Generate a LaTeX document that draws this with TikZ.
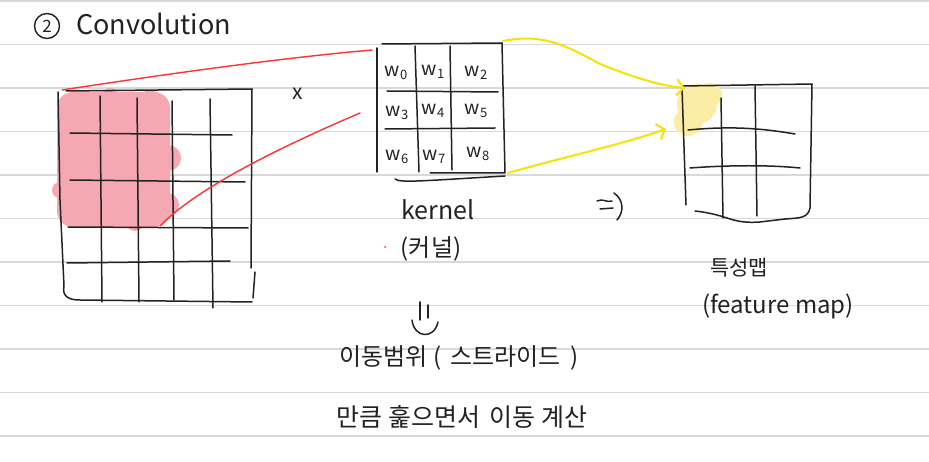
\documentclass[tikz,border=0pt]{standalone}
\usepackage{fontspec}
\setmainfont{Noto Sans CJK KR}
\usetikzlibrary{arrows.meta}
\definecolor{ruled}{HTML}{D9D9D9}
\definecolor{ink}{HTML}{222222}
\definecolor{pinkfill}{HTML}{F5A8B2}
\definecolor{redline}{HTML}{FF3333}
\definecolor{yelline}{HTML}{F5E400}
\definecolor{yelfill}{HTML}{FBEDA6}
\tikzset{
  ink/.style={draw=ink, line width=1.5pt, line cap=round, line join=round},
  redstroke/.style={draw=redline, line width=1.4pt, line cap=round},
  yelstroke/.style={draw=yelline, line width=2pt, line cap=round, -{Straight Barb[length=7pt,width=16pt,line width=2pt]}},
  hand/.style={inner sep=0pt, text=ink, anchor=center},
  wlab/.style={hand, font=\fontsize{19}{19}\selectfont},
}
\newcommand{\wsub}[1]{w\raisebox{-0.35ex}{\fontsize{13}{13}\selectfont #1}}
\begin{document}
\begin{tikzpicture}[x=1pt,y=-1pt]
\useasboundingbox (0,0) rectangle (929,462);
\fill[white] (0,0) rectangle (929,462);
% ruled lines
\foreach \yy in {1,44.5,88,131.5,175,218.5,262,305.5,349,392.5,436}
  \draw[ruled, line width=1.5pt] (0,\yy) -- (929,\yy);

% title
\node[draw=ink, line width=1.4pt, circle, minimum size=25pt, inner sep=0pt, font=\fontsize{17}{17}\selectfont, text=ink] (num) at (47,26) {2};
\node[hand, anchor=west, font=\fontsize{27}{27}\selectfont] (title) at (76,24) {Convolution};

% ---------- input grid ----------
\fill[pinkfill, rounded corners=16] (57,92) rectangle (170,227);
\fill[pinkfill] (168,158) circle (13) (167,205) circle (12) (150,100) circle (10) (110,96) circle (8)
  (135,222) circle (9) (60,190) circle (8);
\coordinate (inTL) at (62,90);
\coordinate (inHit) at (160,226);
\draw[ink] (58,92) -- (60,200) -- (64,286) .. controls (62,296) and (68,300) .. (80,300) -- (252,302);
\draw[ink] (66,91) -- (252,89) -- (251,268);
\draw[ink] (255,272) -- (253,298);
\draw[ink] (100,96) -- (102,302);
\draw[ink] (137,98) -- (139,302);
\draw[ink] (172,101) -- (174,300);
\draw[ink] (210,99) -- (213,308);
\draw[ink] (70,133) -- (232,135);
\draw[ink] (70,180) -- (245,182);
\draw[ink] (68,227) -- (248,228);
\draw[ink] (67,263) -- (230,261);

\node[hand, font=\fontsize{21}{21}\selectfont] (times) at (298,94) {x};

% ---------- kernel ----------
\coordinate (kTL) at (372,50);
\coordinate (kML) at (360,113);
\coordinate (kTR) at (503,41);
\coordinate (kBR) at (508,173);
\draw[ink] (377,48) -- (377,172);
\draw[ink] (382,44) -- (502,43) -- (505,173) -- (430,173);
\draw[ink] (395,179) .. controls (400,183) and (420,181) .. (505,176);
\draw[ink] (415,46) -- (419,172);
\draw[ink] (450,46) -- (452,170);
\draw[ink] (387,91) -- (498,92);
\draw[ink] (385,129) -- (495,128);
\node[wlab] (w0) at (396,73) {\wsub{0}};
\node[wlab] (w1) at (433,72) {\wsub{1}};
\node[wlab] (w2) at (476,73) {\wsub{2}};
\node[wlab] (w3) at (397,113) {\wsub{3}};
\node[wlab] (w4) at (433,111) {\wsub{4}};
\node[wlab] (w5) at (476,111) {\wsub{5}};
\node[wlab] (w6) at (397,157) {\wsub{6}};
\node[wlab] (w7) at (434,157) {\wsub{7}};
\node[wlab] (w8) at (478,154) {\wsub{8}};

\node[hand, font=\fontsize{25}{25}\selectfont] (kernel) at (438,210) {kernel};
\node[hand, font=\fontsize{24}{24}\selectfont] (kernelko) at (431,249) {(커널)};
\fill[redline] (385,247) circle (1);

% red connectors
\draw[redstroke] (inTL) .. controls (160,75) and (280,58) .. (kTL);
\draw[redstroke] (inHit) .. controls (200,185) and (290,143) .. (kML);

% ---------- feature map ----------
\fill[yelfill] (697,104) circle (20) (688,122) circle (14) (710,95) circle (12);
\coordinate (fTL) at (685,88);
\coordinate (fML) at (666,129);
\draw[ink] (682,88) -- (686,205);
\draw[ink] (682,86) -- (812,84) -- (810,208) .. controls (808,218) and (800,218) .. (785,219);
\draw[ink] (695,211) .. controls (730,215) and (730,224) .. (760,222) -- (785,219);
\draw[ink] (721,98) -- (723,218);
\draw[ink] (755,86) -- (757,216);
\draw[ink] (688,130) .. controls (730,126) and (760,128) .. (795,134);
\draw[ink] (690,168) .. controls (730,165) and (770,165) .. (800,168);

% yellow connectors
\draw[yelstroke] (kTR) .. controls (540,34) and (560,42) .. (600,64) .. controls (630,76) and (660,86) .. (fTL);
\draw[yelstroke] (kBR) .. controls (560,158) and (620,145) .. (fML);

% ---------- implies arrows ----------
\coordinate (impA) at (597,201);
\draw[ink] (impA) .. controls (603,198) and (607,203) .. (612,201);
\draw[ink] (600,209) -- (613,208);
\draw[ink] (614,193) .. controls (624,200) and (624,212) .. (617,220);

\coordinate (dnA) at (420,302);
\draw[ink] (dnA) -- (420,320);
\draw[ink] (428,305) -- (428,318);
\draw[ink] (412,320) .. controls (414,338) and (434,340) .. (438,322);

% ---------- texts ----------
\node[hand, font=\fontsize{21}{21}\selectfont] (fmko) at (739,268) {특성맵};
\node[hand, font=\fontsize{24}{24}\selectfont] (fmen) at (778,306) {(feature map)};
\node[hand, font=\fontsize{24}{24}\selectfont] (stride) at (459,358) {이동범위 ( \,스트라이드\, )};
\node[hand, font=\fontsize{25}{25}\selectfont] (calc) at (462,417) {만큼 훑으면서 \,이동 계산};
\end{tikzpicture}
\end{document}
